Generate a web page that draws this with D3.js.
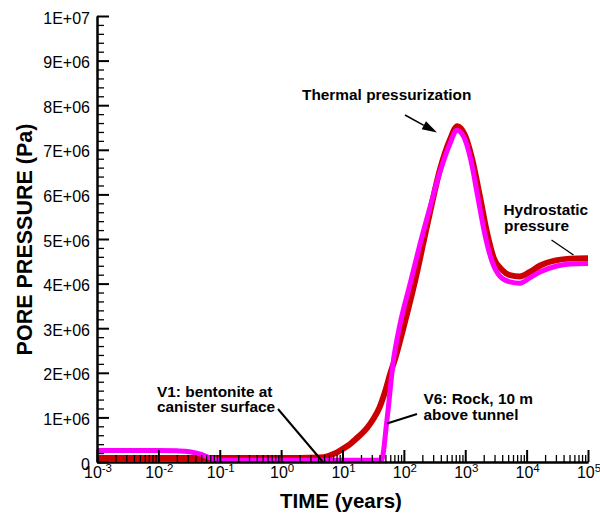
<!DOCTYPE html>
<html>
<head>
<meta charset="utf-8">
<script src="https://cdn.jsdelivr.net/npm/d3@7/dist/d3.min.js"></script>
<style>
  html, body { margin: 0; padding: 0; background: #fff; }
  svg { display: block; }
  text { font-family: "Liberation Sans", Arial, Helvetica, sans-serif; fill: #000; }
</style>
</head>
<body>
<svg id="chart" width="600" height="516"></svg>
<script>
// Pore pressure history at two monitoring points (time in years, pressure in Pa)
const v1Years = [0.001, 0.003, 0.01, 0.03, 0.1, 0.3, 1, 2, 4.3, 6, 8, 10, 13, 16, 20, 25, 32, 40, 50, 60, 71,
  104, 151, 246, 386, 561, 743, 985, 1280, 1730, 2250, 2920, 3950, 5320, 7750, 11300, 16400, 29900, 50600, 100000];
const v1Pressure = [0.09e6, 0.09e6, 0.09e6, 0.09e6, 0.09e6, 0.09e6, 0.09e6, 0.09e6, 0.10e6, 0.14e6, 0.21e6, 0.29e6,
  0.39e6, 0.50e6, 0.62e6, 0.76e6, 0.97e6, 1.22e6, 1.60e6, 1.98e6, 2.29e6,
  3.14e6, 4.04e6, 5.38e6, 6.55e6, 7.22e6, 7.53e6, 7.33e6, 6.82e6, 5.96e6, 5.16e6, 4.57e6, 4.31e6, 4.19e6,
  4.16e6, 4.26e6, 4.40e6, 4.52e6, 4.56e6, 4.57e6];

const v6Years = [0.001, 0.003, 0.01, 0.02, 0.032, 0.05, 0.07, 0.1, 1, 10, 43, 53, 67, 86, 125, 182, 265, 386, 561,
  729, 948, 1233, 1603, 2084, 2710, 3656, 5322, 7746, 11270, 16410, 29900, 50580, 100000];
const v6Pressure = [0.26e6, 0.26e6, 0.26e6, 0.25e6, 0.23e6, 0.17e6, 0.09e6, 0.04e6, 0.04e6, 0.04e6, 0.04e6, 0.94e6,
  2.24e6, 3.07e6, 3.97e6, 4.87e6, 5.70e6, 6.50e6, 7.13e6, 7.44e6, 7.29e6, 6.77e6, 5.94e6, 5.11e6, 4.51e6,
  4.17e6, 4.04e6, 4.01e6, 4.13e6, 4.26e6, 4.39e6, 4.44e6, 4.45e6];

const xDecades = [1e-3, 1e-2, 1e-1, 1e0, 1e1, 1e2, 1e3, 1e4, 1e5];
const yMajorTicks = [0, 1e6, 2e6, 3e6, 4e6, 5e6, 6e6, 7e6, 8e6, 9e6, 1e7];
const yTickLabels = ["0", "1E+06", "2E+06", "3E+06", "4E+06", "5E+06", "6E+06", "7E+06", "8E+06", "9E+06", "1E+07"];

const svg = d3.select("#chart");
const font = '"Liberation Sans", Arial, Helvetica, sans-serif';

const x = d3.scaleLog().domain([1e-3, 1e5]).range([97, 588]);
const y = d3.scaleLinear().domain([0, 1e7]).range([462, 16]);

// minor ticks: 2..9 within every decade, 200 kPa steps on pressure
const xMinor = [];
xDecades.slice(0, -1).forEach(d => { for (let k = 2; k <= 9; k++) xMinor.push(d * k); });
const yMinor = d3.range(0, 1e7 + 1, 2e5).filter(v => v % 1e6 !== 0);

const line = d3.line()
  .x(d => x(d[0]))
  .y(d => y(d[1]))
  .curve(d3.curveMonotoneX);

const v1 = v1Years.map((t, i) => [t, v1Pressure[i]]);
const v6 = v6Years.map((t, i) => [t, v6Pressure[i]]);

svg.append("path").datum(v1)
  .attr("d", line)
  .attr("fill", "none")
  .attr("stroke", "#cc0000")
  .attr("stroke-width", 6)
  .attr("stroke-linejoin", "round");

svg.append("path").datum(v6)
  .attr("d", line)
  .attr("fill", "none")
  .attr("stroke", "#ff00ff")
  .attr("stroke-width", 5)
  .attr("stroke-linejoin", "round");

// axes: ticks point into the plot
function styleAxis(g, w) {
  g.select(".domain").attr("stroke", "#000").attr("stroke-width", 2);
  g.selectAll(".tick line").attr("stroke", "#000").attr("stroke-width", w);
}

const gx = svg.append("g").attr("transform", `translate(0,${y(0)})`);
gx.append("g").call(d3.axisBottom(x).tickValues(xMinor).tickSize(-7).tickSizeOuter(0).tickFormat(""))
  .call(g => styleAxis(g, 1.3));
gx.append("g").call(d3.axisBottom(x).tickValues(xDecades).tickSize(-12).tickSizeOuter(0).tickFormat(""))
  .call(g => styleAxis(g, 2));

const gy = svg.append("g").attr("transform", `translate(${x(1e-3)},0)`);
gy.append("g").call(d3.axisLeft(y).tickValues(yMinor).tickSize(-7).tickSizeOuter(0).tickFormat(""))
  .call(g => styleAxis(g, 1.3));
gy.append("g").call(d3.axisLeft(y).tickValues(yMajorTicks).tickSize(-12).tickSizeOuter(0).tickPadding(7)
    .tickFormat((d, i) => yTickLabels[i]))
  .call(g => styleAxis(g, 2))
  .call(g => g.selectAll(".tick text")
    .attr("font-family", font).attr("font-size", 16).attr("fill", "#000").attr("dy", "0.44em"));

// decade labels with superscript exponents
const xl = svg.append("g").attr("font-family", font);
xDecades.forEach(d => {
  const e = Math.round(Math.log10(d));
  const t = xl.append("text")
    .attr("x", x(d) + 1).attr("y", 477.5)
    .attr("text-anchor", "middle")
    .attr("font-size", 16);
  t.append("tspan").text("10");
  t.append("tspan").attr("dy", -6).attr("font-size", 11.5).text(String(e));
});

// axis titles
svg.append("text")
  .attr("x", 341).attr("y", 508)
  .attr("text-anchor", "middle")
  .attr("font-family", font).attr("font-weight", "bold").attr("font-size", 20.5)
  .text("TIME (years)");

svg.append("text")
  .attr("transform", "translate(31.5,239.5) rotate(-90)")
  .attr("text-anchor", "middle")
  .attr("font-family", font).attr("font-weight", "bold").attr("font-size", 21.5)
  .text("PORE PRESSURE (Pa)");

// annotations
const ann = svg.append("g").attr("font-family", font).attr("font-weight", "bold").attr("font-size", 15.4);

ann.append("text").attr("x", 302).attr("y", 99.5).text("Thermal pressurization");

ann.append("text").attr("x", 503.5).attr("y", 214.5).text("Hydrostatic");
ann.append("text").attr("x", 504).attr("y", 230.5).text("pressure");

ann.append("text").attr("x", 157).attr("y", 396.5).text("V1: bentonite at");
ann.append("text").attr("x", 157).attr("y", 411.5).text("canister surface");

ann.append("text").attr("x", 423.5).attr("y", 403.5).text("V6: Rock, 10 m");
ann.append("text").attr("x", 423.5).attr("y", 419.5).text("above tunnel");

function leader(x1, y1, x2, y2, w) {
  svg.append("line").attr("x1", x1).attr("y1", y1).attr("x2", x2).attr("y2", y2)
    .attr("stroke", "#000").attr("stroke-width", w);
}
leader(278, 409, 322.5, 461.5, 2);
leader(387, 423.5, 417, 414, 2);
leader(551.5, 240, 573.5, 255, 1.3);

// arrow pointing at the pressure peak
(function arrow(x1, y1, x2, y2) {
  const dx = x2 - x1, dy = y2 - y1, len = Math.hypot(dx, dy);
  const ux = dx / len, uy = dy / len, hl = 15, hw = 4.5;
  const bx = x2 - ux * hl, by = y2 - uy * hl;
  svg.append("line").attr("x1", x1).attr("y1", y1).attr("x2", bx).attr("y2", by)
    .attr("stroke", "#000").attr("stroke-width", 1.5);
  svg.append("path")
    .attr("d", `M${x2},${y2}L${bx - uy * hw},${by + ux * hw}L${bx + uy * hw},${by - ux * hw}Z`)
    .attr("fill", "#000");
})(405, 115, 437, 132.5);
</script>
</body>
</html>
